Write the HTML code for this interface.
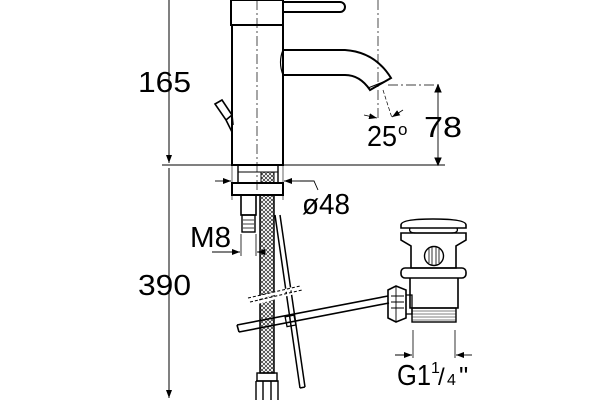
<!DOCTYPE html>
<html><head><style>html,body{margin:0;padding:0;background:#fff}svg{display:block}</style></head>
<body>
<svg width="600" height="400" viewBox="0 0 600 400" xmlns="http://www.w3.org/2000/svg" font-family="Liberation Sans, sans-serif">
<defs>
<pattern id="mesh" width="4" height="4" patternUnits="userSpaceOnUse"><path d="M0 0L4 4M4 0L0 4" stroke="#000" stroke-width="0.6"/></pattern>
<marker id="a" markerWidth="8" markerHeight="6" refX="8" refY="3" orient="auto" markerUnits="userSpaceOnUse"><path d="M0 0L8 3L0 6z" fill="#000"/></marker>
</defs>
<g fill="none" stroke="#000" stroke-width="1">
<line x1="169" y1="0" x2="169" y2="163" marker-end="url(#a)"/>
<line x1="169" y1="168" x2="169" y2="398" marker-end="url(#a)"/>
<line x1="162" y1="165" x2="445" y2="165" stroke-width="0.9"/>
<line x1="257" y1="0" x2="257" y2="190" stroke-dasharray="10,3,2,3" stroke-width="0.7"/>
<line x1="378" y1="0" x2="378" y2="118" stroke-dasharray="10,3,2,3" stroke-width="0.7"/>
<line x1="388" y1="85" x2="442" y2="85" stroke-dasharray="10,3,2,3" stroke-width="0.7"/>
<line x1="383" y1="90" x2="392" y2="118" stroke-dasharray="4,2" stroke-width="0.7"/>
<rect x="231" y="0" width="52" height="25" stroke-width="2"/>
<rect x="232" y="25" width="51" height="140" stroke-width="2"/>
<path d="M340 2 H283 V12 H340 A5 5 0 0 0 340 2Z" stroke-width="2"/>
<path d="M283 50 H345 Q375 52 391 78 L370 90 Q360 75 345 75 H283" stroke-width="2"/>
<path d="M368 88 L388 80" stroke-width="1"/>
<path d="M283 50 Q278 62 283 75" stroke-width="1.2"/>
<path d="M215 104 L222 100 L232 115 L226 120Z M226 120 L232 132 M232 115 L233 125" stroke-width="1.6"/>
<line x1="438" y1="87" x2="438" y2="163" stroke-width="0.9"/>
<path d="M435 92 L438 85 L441 92Z M435 158 L438 165 L441 158Z" fill="#000"/>
<line x1="364" y1="115" x2="377" y2="118" marker-end="url(#a)" stroke-width="0.8"/>
<line x1="403" y1="110" x2="392" y2="117" marker-end="url(#a)" stroke-width="0.8"/>
<rect x="238" y="165" width="40" height="18" stroke-width="1.4"/>
<rect x="232" y="183" width="51" height="12" stroke-width="2"/>
<line x1="238" y1="172" x2="278" y2="172"/>
<rect x="261" y="172" width="13" height="11" fill="url(#mesh)"/>
<line x1="215" y1="181" x2="231" y2="181" marker-end="url(#a)" stroke-width="0.9"/>
<line x1="300" y1="181" x2="284" y2="181" marker-end="url(#a)" stroke-width="0.9"/>
<polyline points="300,181 314,181 318,190" stroke-width="0.9"/>
<line x1="232" y1="165" x2="232" y2="200" stroke-width="0.6"/>
<line x1="283" y1="165" x2="283" y2="200" stroke-width="0.6"/>
<rect x="241" y="195" width="15" height="20" stroke-width="1.6"/>
<rect x="242" y="215" width="13" height="17" stroke-width="1.4"/>
<path d="M243 220H254M243 224H254M243 228H254" stroke-width="0.7"/>
<line x1="241" y1="234" x2="241" y2="256" stroke-width="0.8"/>
<line x1="256" y1="234" x2="256" y2="256" stroke-width="0.8"/>
<line x1="212" y1="252" x2="240" y2="252" marker-end="url(#a)" stroke-width="0.9"/>
<line x1="266" y1="252" x2="257" y2="252" marker-end="url(#a)" stroke-width="0.9"/>
<rect x="260" y="195" width="14" height="178" fill="url(#mesh)" stroke-width="1.5"/>
<rect x="257" y="373" width="20" height="8" stroke-width="1.4"/>
<path d="M256 381 H278 V400 M256 381 V400 M263 381V400 M271 381V400" stroke-width="1.4"/>
<path d="M275 215 L300 388 M280 215 L305 387 M300 388 L305 387" stroke-width="1.5"/>
<path d="M250 300 L298 287 M252 304 L300 291" stroke="#fff" stroke-width="3"/>
<path d="M248 298 L300 286 M250 302 L302 290" stroke-dasharray="3,2" stroke-width="1"/>
<path d="M237 325 L388 296 M239 332 L389 303 M237 325 L239 332" stroke-width="1.6"/>
<rect x="286" y="316" width="9" height="10" transform="rotate(-11 290 321)" stroke-width="1.3"/>
<path d="M401 225 Q401 219 433 219 Q466 219 466 225 L466 228 H401Z" stroke-width="1.6"/>
<path d="M410 228 Q408 233 416 233 H451 Q459 233 457 228" stroke-width="1.3"/>
<path d="M401 233 H466 V240 L456 246 V268 H411 V246 L401 240Z" stroke-width="1.6"/>
<circle cx="434" cy="256" r="9.5" stroke-width="1.4"/>
<path d="M429 249V263M432 247V265M436 247V265M439 249V263" stroke-width="0.8"/>
<rect x="401" y="268" width="65" height="10" rx="4" stroke-width="1.6"/>
<path d="M410 278 V308 H458 V278" stroke-width="1.6"/>
<rect x="412" y="308" width="44" height="14" stroke-width="1.4"/>
<path d="M412 311H456M412 314H456M412 317H456M412 320H456" stroke-width="0.5"/>
<path d="M388 290 L396 286 L406 290 V318 L396 322 L388 318Z" stroke-width="1.6"/>
<path d="M396 286 V322 M391 296 H404 M391 302 H404 M391 308 H404" stroke-width="0.9"/>
<path d="M406 295 H412 V314 H406" stroke-width="1.3"/>
<line x1="413" y1="330" x2="413" y2="358" stroke-width="0.8"/>
<line x1="455" y1="330" x2="455" y2="358" stroke-width="0.8"/>
<line x1="395" y1="355" x2="412" y2="355" marker-end="url(#a)" stroke-width="0.9"/>
<line x1="472" y1="355" x2="456" y2="355" marker-end="url(#a)" stroke-width="0.9"/>
</g>
<g fill="#000" font-size="29">
<text x="138" y="92" textLength="53" lengthAdjust="spacingAndGlyphs">165</text>
<text x="138" y="295" textLength="53" lengthAdjust="spacingAndGlyphs">390</text>
<text x="367" y="146" textLength="30" lengthAdjust="spacingAndGlyphs">25</text><text x="398" y="135" font-size="17">o</text>
<text x="424" y="137" textLength="38" lengthAdjust="spacingAndGlyphs">78</text>
<text x="302" y="214" textLength="48" lengthAdjust="spacingAndGlyphs">ø48</text>
<text x="190" y="247" textLength="41" lengthAdjust="spacingAndGlyphs">M8</text>
<text x="397" y="385" textLength="34" lengthAdjust="spacingAndGlyphs">G1</text><text x="431" y="373" font-size="16">1</text><text x="438" y="385" font-size="24">/</text><text x="447" y="385" font-size="16">4</text><text x="459" y="385" font-size="26">"</text>
</g>
</svg>
</body></html>
